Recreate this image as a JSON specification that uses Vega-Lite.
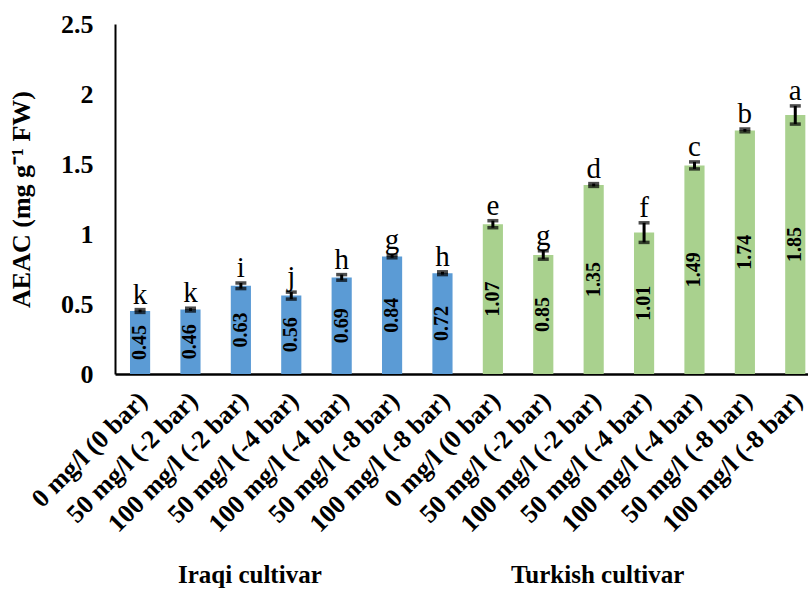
{
  "$schema": "https://vega.github.io/schema/vega-lite/v6.json",
  "width": 693,
  "height": 350,
  "autosize": {"type": "none"},
  "padding": {"left": 115, "top": 24, "right": 0, "bottom": 218},
  "background": "white",
  "config": {
    "view": {"stroke": null},
    "font": "Liberation Serif",
    "text": {"font": "Liberation Serif"}
  },
  "data": {
    "values": [
      {"id": "01|Iraqi|0 mg/l (0 bar)", "cultivar": "Iraqi", "value": 0.45, "lo": 0.44, "hi": 0.46, "letter": "k"},
      {"id": "02|Iraqi|50 mg/l (-2 bar)", "cultivar": "Iraqi", "value": 0.46, "lo": 0.45, "hi": 0.47, "letter": "k"},
      {"id": "03|Iraqi|100 mg/l (-2 bar)", "cultivar": "Iraqi", "value": 0.63, "lo": 0.61, "hi": 0.65, "letter": "i"},
      {"id": "04|Iraqi|50 mg/l (-4 bar)", "cultivar": "Iraqi", "value": 0.56, "lo": 0.535, "hi": 0.585, "letter": "j"},
      {"id": "05|Iraqi|100 mg/l (-4 bar)", "cultivar": "Iraqi", "value": 0.69, "lo": 0.67, "hi": 0.71, "letter": "h"},
      {"id": "06|Iraqi|50 mg/l (-8 bar)", "cultivar": "Iraqi", "value": 0.84, "lo": 0.83, "hi": 0.85, "letter": "g"},
      {"id": "07|Iraqi|100 mg/l (-8 bar)", "cultivar": "Iraqi", "value": 0.72, "lo": 0.71, "hi": 0.73, "letter": "h"},
      {"id": "08|Turkish|0 mg/l (0 bar)", "cultivar": "Turkish", "value": 1.07, "lo": 1.045, "hi": 1.095, "letter": "e"},
      {"id": "09|Turkish|50 mg/l (-2 bar)", "cultivar": "Turkish", "value": 0.85, "lo": 0.82, "hi": 0.88, "letter": "g"},
      {"id": "10|Turkish|100 mg/l (-2 bar)", "cultivar": "Turkish", "value": 1.35, "lo": 1.34, "hi": 1.36, "letter": "d"},
      {"id": "11|Turkish|50 mg/l (-4 bar)", "cultivar": "Turkish", "value": 1.01, "lo": 0.94, "hi": 1.08, "letter": "f"},
      {"id": "12|Turkish|100 mg/l (-4 bar)", "cultivar": "Turkish", "value": 1.49, "lo": 1.465, "hi": 1.515, "letter": "c"},
      {"id": "13|Turkish|50 mg/l (-8 bar)", "cultivar": "Turkish", "value": 1.74, "lo": 1.73, "hi": 1.75, "letter": "b"},
      {"id": "14|Turkish|100 mg/l (-8 bar)", "cultivar": "Turkish", "value": 1.85, "lo": 1.785, "hi": 1.915, "letter": "a"}
    ]
  },
  "encoding": {
    "x": {
      "field": "id",
      "type": "nominal",
      "sort": "ascending",
      "scale": {"paddingInner": 0.6, "paddingOuter": 0.175, "align": 0.85},
      "axis": {
        "title": null,
        "labelExpr": "split(datum.label, '|')[2]",
        "labelAngle": -45,
        "labelAlign": "right",
        "labelBaseline": "middle",
        "labelFont": "Liberation Serif",
        "labelFontSize": 26,
        "labelFontWeight": "bold",
        "labelColor": "black",
        "labelPadding": 22,
        "labelOffset": 3,
        "labelLimit": 400,
        "labelOverlap": false,
        "ticks": false,
        "domainColor": "black",
        "domainWidth": 2.5,
        "grid": false
      }
    }
  },
  "layer": [
    {
      "layer": [
        {
          "mark": {"type": "bar"},
          "encoding": {
            "y": {
              "field": "value",
              "type": "quantitative",
              "scale": {"domain": [0, 2.5], "nice": false},
              "axis": {
                "values": [0, 0.5, 1, 1.5, 2, 2.5],
                "format": "~g",
                "title": "AEAC (mg g⁻¹ FW)",
                "titleFont": "Liberation Serif",
                "titleFontSize": 26,
                "titleFontWeight": "bold",
                "titleColor": "black",
                "titlePadding": 26,
                "labelFont": "Liberation Serif",
                "labelFontSize": 26,
                "labelFontWeight": "bold",
                "labelColor": "black",
                "labelPadding": 22,
                "ticks": false,
                "grid": false,
                "domainColor": "black",
                "domainWidth": 2
              }
            },
            "color": {
              "field": "cultivar",
              "type": "nominal",
              "scale": {"domain": ["Iraqi", "Turkish"], "range": ["#5B9BD5", "#A9D18E"]},
              "legend": null
            }
          }
        },
        {
          "mark": {"type": "rule", "color": "black", "strokeWidth": 3},
          "encoding": {
            "y": {"field": "lo", "type": "quantitative"},
            "y2": {"field": "hi"}
          }
        },
        {
          "mark": {"type": "tick", "color": "black", "size": 11, "thickness": 3.5, "orient": "horizontal"},
          "encoding": {"y": {"field": "lo", "type": "quantitative"}}
        },
        {
          "mark": {"type": "tick", "color": "black", "size": 11, "thickness": 3.5, "orient": "horizontal"},
          "encoding": {"y": {"field": "hi", "type": "quantitative"}}
        },
        {
          "mark": {"type": "text", "font": "Liberation Serif", "fontSize": 29, "color": "black", "baseline": "alphabetic", "dy": -6},
          "encoding": {
            "y": {"field": "hi", "type": "quantitative"},
            "text": {"field": "letter"}
          }
        },
        {
          "data": {"values": [{"label": "Iraqi cultivar"}]},
          "mark": {"type": "text", "font": "Liberation Serif", "fontSize": 25, "fontWeight": "bold", "color": "black", "baseline": "alphabetic", "dy": 209, "dx": 9},
          "encoding": {
            "x": {"datum": "03|Iraqi|100 mg/l (-2 bar)", "type": "nominal"},
            "y": {"datum": 0, "type": "quantitative"},
            "text": {"field": "label"}
          }
        },
        {
          "data": {"values": [{"label": "Turkish cultivar"}]},
          "mark": {"type": "text", "font": "Liberation Serif", "fontSize": 25, "fontWeight": "bold", "color": "black", "baseline": "alphabetic", "dy": 209, "dx": 4},
          "encoding": {
            "x": {"datum": "10|Turkish|100 mg/l (-2 bar)", "type": "nominal"},
            "y": {"datum": 0, "type": "quantitative"},
            "text": {"field": "label"}
          }
        }
      ]
    },
    {
      "mark": {"type": "text", "font": "Liberation Serif", "fontSize": 20, "fontWeight": "bold", "color": "black", "angle": 270, "align": "center", "baseline": "middle"},
      "encoding": {
        "y": {"field": "value", "type": "quantitative", "scale": {"domain": [0, 5], "nice": false}, "axis": null},
        "text": {"field": "value", "type": "quantitative", "format": ".2f"}
      }
    }
  ],
  "resolve": {"scale": {"y": "independent"}}
}
